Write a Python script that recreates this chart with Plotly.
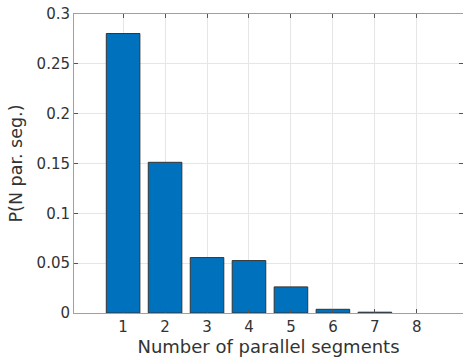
import plotly.graph_objects as go

categories = [1, 2, 3, 4, 5, 6, 7, 8]
probabilities = [0.2804, 0.1512, 0.0556, 0.0526, 0.0262, 0.0037, 0.0008, 0.0]
x_ticks = [1, 2, 3, 4, 5, 6, 7, 8]
y_ticks = [0, 0.05, 0.1, 0.15, 0.2, 0.25, 0.3]
y_tick_labels = ["0", "0.05", "0.1", "0.15", "0.2", "0.25", "0.3"]

# zero-height bars get no outline (MATLAB draws nothing visible there)
edge_widths = [1 if v > 0 else 0 for v in probabilities]

fig = go.Figure()
fig.add_trace(go.Bar(
    x=categories, y=probabilities, width=0.8,
    marker=dict(color="#0072BD", line=dict(color="#333333", width=edge_widths)),
))

axis_common = dict(
    showline=True, linecolor="#a0a0a0", linewidth=1, mirror="ticks",
    ticks="inside", ticklen=4, tickcolor="#555555",
    showgrid=True, gridcolor="#e6e6e6", gridwidth=1, zeroline=False,
    tickfont=dict(family="DejaVu Sans", size=15, color="#333333"),
)

fig.update_layout(
    width=463, height=361,
    margin=dict(l=74, r=0, t=14, b=48),
    paper_bgcolor="white", plot_bgcolor="white",
    showlegend=False,
    font=dict(family="DejaVu Sans", color="#333333"),
    xaxis=dict(range=[-0.17, 9.1], tickvals=x_ticks, ticktext=[str(v) for v in x_ticks],
               title=dict(text="Number of parallel segments", standoff=5,
                          font=dict(family="DejaVu Sans", size=18, color="#333333")),
               **axis_common),
    yaxis=dict(range=[0, 0.3], tickvals=y_ticks, ticktext=y_tick_labels,
               title=dict(text="P(N par. seg.)", standoff=9,
                          font=dict(family="DejaVu Sans", size=17.5, color="#333333")),
               **axis_common),
)

fig.write_html("out.html")
